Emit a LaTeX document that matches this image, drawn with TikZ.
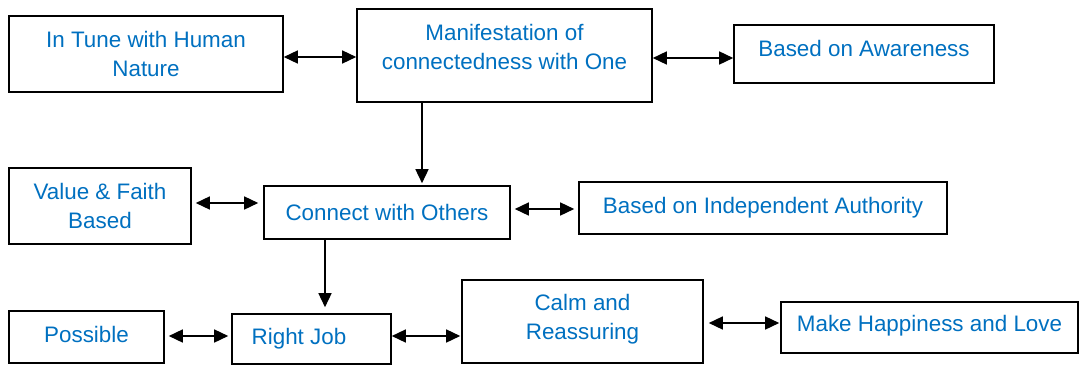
\documentclass[tikz,border=0pt]{standalone}
\usepackage{fontspec}
\setmainfont{Liberation Sans}
\usetikzlibrary{arrows.meta}
\definecolor{txtblue}{HTML}{0070C0}
\newcommand{\tdrop}[1]{\rule[-#1]{0pt}{0pt}}
\tikzset{
  box/.style={draw=black, line width=1.6pt, inner sep=0pt, align=center,
    text=txtblue, font=\fontsize{22.4pt}{29pt}\selectfont},
  link/.style={line width=1.5pt, {Triangle[length=14pt,width=13pt]}-{Triangle[length=14pt,width=13pt]}},
  flow/.style={line width=1.5pt, -{Triangle[length=14pt,width=13pt]}}
}
\begin{document}
\begin{tikzpicture}[x=1pt,y=-1pt]
\useasboundingbox (0,0) rectangle (1081,364);
\node[box, minimum width=274pt, minimum height=76pt] (n1) at (146,54) {In Tune with Human\\Nature};
\node[box, minimum width=295pt, minimum height=93pt] (n2) at (504.5,55.5) {Manifestation of\\connectedness with One\tdrop{17pt}};
\node[box, minimum width=260pt, minimum height=58pt] (n3) at (864,54) {Based on Awareness\tdrop{12pt}};
\node[box, minimum width=182pt, minimum height=76pt] (n4) at (100,206) {Value \& Faith\\Based};
\node[box, minimum width=246pt, minimum height=53pt] (n5) at (387,212.5) {Connect with Others};
\node[box, minimum width=368pt, minimum height=52pt] (n6) at (763,208) {Based on Independent Authority};
\node[box, minimum width=155pt, minimum height=52pt] (n7) at (86.5,337) {Possible\tdrop{6pt}};
\node[box, minimum width=159pt, minimum height=50pt] (n8) at (311.5,339) {Right Job\hspace*{25pt}};
\node[box, minimum width=241pt, minimum height=83pt] (n9) at (582.5,321.5) {Calm and\\Reassuring\tdrop{10pt}};
\node[box, minimum width=297pt, minimum height=51pt] (n10) at (929.5,327.5) {Make Happiness and Love\tdrop{9pt}};

\draw[link] ([yshift=-3pt]n1.east) -- ([yshift=-1.5pt]n2.west);
\draw[link] ([yshift=-2.5pt]n2.east) -- ([yshift=-4pt]n3.west);
\draw[flow] ([xshift=-82.5pt]n2.south) -- ([xshift=35pt,yshift=2pt]n5.north);
\draw[link, shorten <=4pt, shorten >=5pt] ([yshift=3pt]n4.east) -- ([yshift=9.5pt]n5.west);
\draw[link, shorten <=4pt, shorten >=4pt] ([yshift=3.5pt]n5.east) -- ([yshift=-1pt]n6.west);
\draw[flow, shorten >=6pt] ([xshift=-62pt]n5.south) -- ([xshift=13.5pt]n8.north);
\draw[link, shorten <=4pt, shorten >=3pt] ([yshift=1pt]n7.east) -- ([yshift=3pt]n8.west);
\draw[link, shorten >=1pt] ([yshift=3pt]n8.east) -- ([yshift=-14.5pt]n9.west);
\draw[link, shorten <=5pt, shorten >=1pt] ([yshift=-1.5pt]n9.east) -- ([yshift=4.5pt]n10.west);
\end{tikzpicture}
\end{document}
